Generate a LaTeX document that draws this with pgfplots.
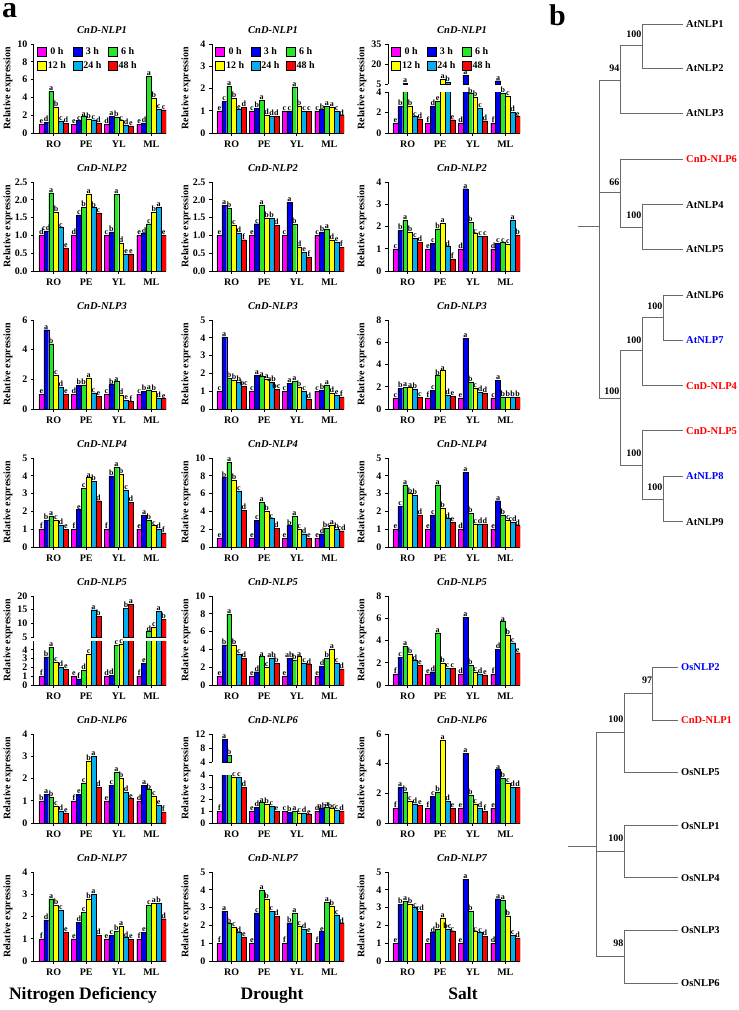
\documentclass[border=0pt]{standalone}
\usepackage{pgfplots}
\pgfplotsset{compat=1.18}
\usepackage{pgfplotstable}
\usepackage{fontspec}
\setmainfont{Liberation Serif}

\definecolor{c0}{RGB}{255,0,255}
\definecolor{c3}{RGB}{0,0,240}
\definecolor{c6}{RGB}{40,230,40}
\definecolor{c12}{RGB}{255,255,0}
\definecolor{c24}{RGB}{0,176,240}
\definecolor{c48}{RGB}{255,0,0}
\definecolor{treec}{RGB}{105,105,105}

% ---------------- data ----------------
\pgfplotstableread{
x a b c d e f la lb lc ld le lf
0 1.0 1.2 4.7 2.9 1.35 1.1 e d a b c d
1 1.0 1.4 1.85 1.6 1.5 1.15 e c a b c d
2 1.0 1.9 1.8 1.4 0.9 0.8 d a b c d e
3 1.0 1.15 6.4 3.95 2.65 2.6 e d a b c c
}\tNa
\pgfplotstableread{
x a b c d e f la lb lc ld le lf
0 1.0 1.42 2.1 1.55 1.05 1.15 e c a b e d
1 1.0 1.12 1.48 0.8 0.75 0.75 c b a d d d
2 1.0 1.0 2.08 1.2 1.0 0.97 c c a b c c
3 1.0 1.05 1.2 1.15 1.0 0.78 c b a a c d
}\tDa
\pgfplotstableread{
x a b c d e f la lb lc ld le lf
0 1.0 2.6 5.7 2.6 1.6 1.4 e b {} b c d
1 1.0 2.65 3.1 8.7 6.2 1.3 f d e {} {} e
2 1.0 11.6 3.85 3.5 2.4 1.2 d {} b b c d
3 1.0 7.5 3.9 3.6 2.0 1.6 f {} b c d e
}\tSaL
\pgfplotstableread{
x a b c d e f la lb lc ld le lf
0 1.0 2.6 5.7 2.6 1.6 1.4 {} {} a {} {} {}
1 1.0 2.65 3.1 8.7 6.2 1.3 {} {} {} a b {}
2 1.0 11.6 3.85 3.5 2.4 1.2 {} a {} {} {} {}
3 1.0 7.5 3.9 3.6 2.0 1.6 {} a {} {} {} {}
}\tSaU
\pgfplotstableread{
x a b c d e f la lb lc ld le lf
0 1.0 1.13 2.2 1.65 1.22 0.65 d cd a b c e
1 1.0 1.58 1.8 2.17 1.78 1.63 d c b a b c
2 1.0 1.1 2.15 0.78 0.48 0.48 c b a d e e
3 1.0 1.05 1.33 1.65 1.8 1.0 e d c b a e
}\tNb
\pgfplotstableread{
x a b c d e f la lb lc ld le lf
0 1.0 1.85 1.76 1.3 1.07 0.88 e a b c d f
1 1.0 1.33 1.85 1.48 1.48 1.28 e c a b b d
2 1.0 1.93 1.32 0.66 0.53 0.4 c a b d e f
3 1.0 1.1 1.18 0.88 0.82 0.67 c b a d e f
}\tDb
\pgfplotstableread{
x a b c d e f la lb lc ld le lf
0 1.0 1.83 2.28 1.75 1.48 1.3 c b a b c d
1 1.0 1.25 1.9 2.15 1.1 0.55 e c b a d f
2 1.0 3.7 2.2 1.68 1.55 1.55 d a b c c c
3 1.0 1.25 1.28 1.2 2.3 1.6 d c c c a b
}\tSb
\pgfplotstableread{
x a b c d e f la lb lc ld le lf
0 1.0 5.35 4.4 2.3 1.5 1.0 e a b c d e
1 1.0 1.6 1.62 2.1 1.1 0.85 d b b a c e
2 1.0 1.65 1.85 0.95 0.6 0.5 c b a d e f
3 1.0 1.2 1.3 1.2 0.75 0.7 c b a b d e
}\tNc
\pgfplotstableread{
x a b c d e f la lb lc ld le lf
0 1.0 4.05 1.72 1.62 1.5 1.3 c a b b b bc
1 1.0 1.9 1.82 1.7 1.52 1.1 c a a a ab bc
2 1.0 1.45 1.55 1.25 1.02 0.57 c a a b c d
3 1.0 1.07 1.35 0.9 0.8 0.68 c b a d e f
}\tDc
\pgfplotstableread{
x a b c d e f la lb lc ld le lf
0 1.0 1.85 1.95 1.92 1.82 1.05 c b a a b c
1 1.0 1.7 3.0 3.45 1.28 1.15 f c b a d e
2 1.0 6.35 2.4 1.85 1.5 1.45 e a b c d d
3 1.0 2.6 1.08 1.08 1.08 1.08 c a b b b b
}\tSc
\pgfplotstableread{
x a b c d e f la lb lc ld le lf
0 1.0 1.5 1.75 1.5 1.25 1.0 f b a c d e
1 1.0 2.1 3.3 3.9 3.7 2.6 f e c a b d
2 1.0 4.0 4.5 4.1 3.2 2.5 f b a b c d
3 1.0 1.8 1.5 1.2 1.0 0.8 e a b c d f
}\tNd
\pgfplotstableread{
x a b c d e f la lb lc ld le lf
0 1.0 7.8 9.5 7.5 6.3 4.1 e b a b c d
1 1.0 3.0 5.0 4.0 3.2 2.1 e c a b c d
2 1.0 2.4 3.5 2.0 1.5 1.0 e b a c d e
3 1.0 1.5 2.1 2.5 2.0 1.8 e d bc a b cd
}\tDd
\pgfplotstableread{
x a b c d e f la lb lc ld le lf
0 1.0 2.3 3.5 3.0 2.9 1.8 e c a b b d
1 1.0 1.8 3.5 2.2 1.6 1.4 e c a b d e
2 1.0 4.2 1.9 1.3 1.3 1.3 d a b c d d
3 1.0 2.6 1.8 1.5 1.4 1.2 e a b c cd d
}\tSd
\pgfplotstableread{
x a b c d e f la lb lc ld le lf
0 1.0 3.2 4.3 2.6 2.0 1.8 f b a c d e
1 1.0 0.7 1.7 3.5 15 12.5 e f d c {} {}
2 1.0 1.1 4.5 4.7 15.5 17 d d c c {} {}
3 1.0 2.5 7.0 8.5 14.5 11.5 f e {} {} {} {}
}\tNeL
\pgfplotstableread{
x a b c d e f la lb lc ld le lf
0 1.0 3.2 4.3 2.6 2.0 1.8 {} {} {} {} {} {}
1 1.0 0.7 1.7 3.5 15 12.5 {} {} {} {} a b
2 1.0 1.1 4.5 4.7 15.5 17 {} {} {} {} b a
3 1.0 2.5 7.0 8.5 14.5 11.5 {} {} d c a b
}\tNeU
\pgfplotstableread{
x a b c d e f la lb lc ld le lf
0 1.0 4.5 8.0 4.5 3.5 3.0 e b a b c d
1 1.0 1.5 3.2 2.0 3.0 2.5 e d a c ab b
2 1.0 3.0 2.8 3.2 2.5 2.3 e ab b a c d
3 1.0 2.1 3.0 4.0 2.5 1.8 e d b a c d
}\tDe
\pgfplotstableread{
x a b c d e f la lb lc ld le lf
0 1.0 2.5 3.5 2.8 2.2 1.8 f c a b d e
1 1.0 1.2 4.7 2.0 1.5 1.5 e d a b c c
2 1.0 6.1 1.8 1.2 1.0 0.9 d a b c d e
3 1.0 3.2 5.7 4.5 3.8 2.9 f d a b c e
}\tSe
\pgfplotstableread{
x a b c d e f la lb lc ld le lf
0 1.0 1.3 1.15 0.75 0.55 0.45 b a b c d e
1 1.0 1.3 1.8 2.8 3.0 1.6 f e c b a d
2 1.0 1.7 2.3 2.0 1.4 1.1 e c a b d e
3 1.0 1.7 1.5 1.2 0.8 0.5 d a b c e f
}\tNf
\pgfplotstableread{
x a b c d e f la lb lc ld le lf
0 1.0 10.5 6.0 3.85 3.8 3.0 f {} {} c c d
1 1.0 1.3 1.7 1.6 1.4 1.0 e d a b c e
2 1.0 0.9 1.0 0.8 0.8 0.7 c b a c d e
3 1.0 1.2 1.3 1.2 1.1 1.0 d ab a bc c d
}\tDfL
\pgfplotstableread{
x a b c d e f la lb lc ld le lf
0 1.0 10.5 6.0 3.85 3.8 3.0 {} a b {} {} {}
1 1.0 1.3 1.7 1.6 1.4 1.0 {} {} {} {} {} {}
2 1.0 0.9 1.0 0.8 0.8 0.7 {} {} {} {} {} {}
3 1.0 1.2 1.3 1.2 1.1 1.0 {} {} {} {} {} {}
}\tDfU
\pgfplotstableread{
x a b c d e f la lb lc ld le lf
0 1.0 2.4 2.1 1.5 1.3 1.2 f a b c d e
1 1.0 1.8 2.1 5.6 1.5 1.0 f c b a d e
2 1.0 4.7 1.9 1.3 1.0 0.8 e a b c d f
3 1.0 3.6 3.0 2.7 2.4 2.4 e a b c d d
}\tSf
\pgfplotstableread{
x a b c d e f la lb lc ld le lf
0 1.0 1.85 2.8 2.5 2.3 1.3 f d a b c e
1 1.0 1.75 2.2 2.8 3.0 1.15 e d c b a d
2 1.0 1.15 1.35 1.55 1.05 0.97 e c b a d e
3 1.0 1.3 2.5 2.6 2.6 1.9 f e c a b d
}\tNg
\pgfplotstableread{
x a b c d e f la lb lc ld le lf
0 1.0 2.8 2.1 1.9 1.6 1.35 f a b c d e
1 1.0 2.7 4.0 3.5 2.8 2.5 e c a b c d
2 1.0 2.15 2.7 1.97 1.8 1.55 f b a c d e
3 1.0 1.65 3.3 3.1 2.6 2.1 f e a b c d
}\tDg
\pgfplotstableread{
x a b c d e f la lb lc ld le lf
0 1.0 3.2 3.35 3.2 3.0 2.8 e b a b c cd
1 1.0 1.6 1.8 2.4 1.8 1.65 e d b a bc c
2 1.0 4.6 2.8 1.65 1.6 1.4 e a b c c d
3 1.0 3.5 3.4 2.5 1.45 1.3 d a a b c d
}\tSg

% ---------------- styles ----------------
\pgfplotsset{
 panel/.style={
  scale only axis, width=132pt, anchor=south west,
  ybar, bar width=0.15,
  xmin=-0.6, xmax=3.45, xtick={0,1,2,3}, xticklabels={RO,PE,YL,ML},
  axis x line*=bottom, axis y line*=left,
  axis line style={-, line width=1pt},
  tick align=outside, major tick length=3pt,
  tick style={black, line width=0.8pt},
  ticklabel style={font=\bfseries\fontsize{10}{10}\selectfont},
  xticklabel style={yshift=-1pt},
  /pgf/number format/assume math mode=true,
  point meta=explicit symbolic, nodes near coords,
  every node near coord/.append style={font=\bfseries\fontsize{8}{8}\selectfont, inner sep=0.3pt, text=black, draw=none, fill=none},
  every axis plot/.append style={draw=black, line width=0.3pt},
  legend image code/.code={\draw[##1] (0pt,-4pt) rectangle (9pt,5pt);},
 },
 dec/.style={yticklabel style={/pgf/number format/fixed, /pgf/number format/fixed zerofill, /pgf/number format/precision=1}},
 upper/.style={axis x line=none, restrict y to domain=#1:1000},
 leg/.style={
  legend entries={0 h,3 h,6 h,12 h,24 h,48 h},
  legend columns=3,
  legend style={at={(0,1)}, anchor=north west, draw=none, fill=none,
    font=\bfseries\fontsize{10}{10}\selectfont, nodes={inner sep=1.5pt}, row sep=2.5pt,
    /tikz/every even column/.append style={column sep=5pt}},
 },
}

\newcommand{\bars}[1]{%
 \addplot[fill=c0,  bar shift=-0.375] table[x=x,y=a,meta=la]{#1};
 \addplot[fill=c3,  bar shift=-0.225] table[x=x,y=b,meta=lb]{#1};
 \addplot[fill=c6,  bar shift=-0.075] table[x=x,y=c,meta=lc]{#1};
 \addplot[fill=c12, bar shift=0.075]  table[x=x,y=d,meta=ld]{#1};
 \addplot[fill=c24, bar shift=0.225]  table[x=x,y=e,meta=le]{#1};
 \addplot[fill=c48, bar shift=0.375]  table[x=x,y=f,meta=lf]{#1};}
\newcommand{\legimgs}{%
 \addlegendimage{fill=c0, draw=black, line width=0.3pt}
 \addlegendimage{fill=c3, draw=black, line width=0.3pt}
 \addlegendimage{fill=c6, draw=black, line width=0.3pt}
 \addlegendimage{fill=c12, draw=black, line width=0.3pt}
 \addlegendimage{fill=c24, draw=black, line width=0.3pt}
 \addlegendimage{fill=c48, draw=black, line width=0.3pt}}

% #1 x, #2 bottom, #3 height, #4 ymin, #5 ymax, #6 ticks, #7 table, #8 extra
\newcommand{\panel}[8]{%
 \begin{axis}[panel, at={(#1pt,-#2pt)}, height=#3pt, ymin=#4, ymax=#5, ytick={#6}, #8]
 \bars{#7}
 \end{axis}}
\newcommand{\panelL}[8]{%
 \begin{axis}[panel, at={(#1pt,-#2pt)}, height=#3pt, ymin=#4, ymax=#5, ytick={#6}, #8, leg]
 \legimgs
 \bars{#7}
 \end{axis}}
\newcommand{\ptitle}[3]{\node[font=\bfseries\itshape\fontsize{10.5}{12}\selectfont] at (#1pt,{-#2pt+103pt}) {#3};}
\newcommand{\ylab}[2]{\node[rotate=90, font=\bfseries\fontsize{10}{12}\selectfont] at ({#1pt-26pt},{-#2pt+44.5pt}) {Relative expression};}
\newcommand{\tl}[1]{\addplot[treec, line width=0.8pt, solid, mark=none] coordinates {#1};}

\begin{document}
\begin{tikzpicture}
\path[use as bounding box] (0pt,0pt) rectangle (739pt,-1010pt);

% ----- row 1 : CnD-NLP1 -----
\panelL{34}{133}{89}{0}{10}{0,2,...,10}{\tNa}{}
\panelL{212}{133}{89}{0}{4}{0,1,...,4}{\tDa}{}
\panel{388}{133}{41}{0}{4}{0,2,4}{\tSaL}{}
\panelL{388}{84}{40}{5}{35}{5,20,35}{\tSaU}{upper=5}
% ----- row 2 : CnD-NLP2 -----
\panel{34}{271}{89}{0}{2.5}{0,0.5,...,2.5}{\tNb}{dec}
\panel{212}{271}{89}{0}{2.5}{0,0.5,...,2.5}{\tDb}{dec}
\panel{388}{271}{89}{0}{4}{0,1,...,4}{\tSb}{}
% ----- row 3 : CnD-NLP3 -----
\panel{34}{409}{89}{0}{6}{0,2,4,6}{\tNc}{}
\panel{212}{409}{89}{0}{5}{0,1,...,5}{\tDc}{}
\panel{388}{409}{89}{0}{8}{0,2,...,8}{\tSc}{}
% ----- row 4 : CnD-NLP4 -----
\panel{34}{547}{89}{0}{5}{0,1,...,5}{\tNd}{}
\panel{212}{547}{89}{0}{10}{0,2,...,10}{\tDd}{}
\panel{388}{547}{89}{0}{5}{0,1,...,5}{\tSd}{}
% ----- row 5 : CnD-NLP5 -----
\panel{34}{685}{44}{0}{5}{0,1,...,4}{\tNeL}{}
\panel{34}{637}{41}{5}{20}{5,10,15,20}{\tNeU}{upper=5}
\panel{212}{685}{89}{0}{10}{0,2,...,10}{\tDe}{}
\panel{388}{685}{89}{0}{8}{0,2,...,8}{\tSe}{}
% ----- row 6 : CnD-NLP6 -----
\panel{34}{823}{89}{0}{4}{0,1,...,4}{\tNf}{}
\panel{212}{823}{48}{0}{4}{0,1,...,4}{\tDfL}{}
\panel{212}{762}{28}{4}{12}{4,8,12}{\tDfU}{upper=4}
\panel{388}{823}{89}{0}{6}{0,2,4,6}{\tSf}{}
% ----- row 7 : CnD-NLP7 -----
\panel{34}{961}{89}{0}{4}{0,1,...,4}{\tNg}{}
\panel{212}{961}{89}{0}{5}{0,1,...,5}{\tDg}{}
\panel{388}{961}{89}{0}{5}{0,1,...,5}{\tSg}{}

\foreach \b/\t in {133/CnD-NLP1,271/CnD-NLP2,409/CnD-NLP3,547/CnD-NLP4,685/CnD-NLP5,823/CnD-NLP6,961/CnD-NLP7}{
  \ptitle{102}{\b}{\t}\ptitle{273}{\b}{\t}\ptitle{462}{\b}{\t}
  \ylab{34}{\b}\ylab{212}{\b}\ylab{388}{\b}
}

\node[font=\bfseries\fontsize{17.5}{20}\selectfont, anchor=base] at (83pt,-999pt) {Nitrogen Deficiency};
\node[font=\bfseries\fontsize{17.5}{20}\selectfont, anchor=base] at (272pt,-999pt) {Drought};
\node[font=\bfseries\fontsize{17.5}{20}\selectfont, anchor=base] at (463pt,-999pt) {Salt};
\node[font=\bfseries\fontsize{30}{30}\selectfont, anchor=base west, inner sep=0pt] at (2pt,-17pt) {a};
\node[font=\bfseries\fontsize{30}{30}\selectfont, anchor=base west, inner sep=0pt] at (549pt,-25pt) {b};

% ----- panel b : tree -----
\begin{axis}[hide axis, scale only axis, x=1pt, y=1pt, y dir=reverse,
  xmin=0, xmax=739, ymin=0, ymax=1010, at={(0pt,0pt)}, anchor=north west, clip=false]
\tl{(578,226) (599,226)}
\tl{(620,80) (599,80) (599,398) (620,398)}
\tl{(599,192) (620,192)}
\tl{(642,45.7) (620,45.7) (620,113.3) (683,113.3)}
\tl{(683,24.3) (642,24.3) (642,68.3) (683,68.3)}
\tl{(683,159.3) (620,159.3) (620,227) (642,227)}
\tl{(683,204.7) (642,204.7) (642,249.3) (683,249.3)}
\tl{(642,350.7) (620,350.7) (620,465) (642,465)}
\tl{(663,317.5) (642,317.5) (642,385.7) (683,385.7)}
\tl{(683,295) (663,295) (663,340) (683,340)}
\tl{(683,430.7) (642,430.7) (642,499) (663,499)}
\tl{(683,476) (663,476) (663,521.7) (683,521.7)}
\tl{(568.3,846.7) (596,846.7)}
\tl{(624,732.7) (596,732.7) (596,956.7) (624,956.7)}
\tl{(596,851.7) (624,851.7)}
\tl{(652.7,693.3) (624,693.3) (624,772.3) (678.3,772.3)}
\tl{(678.3,667.3) (652.7,667.3) (652.7,720) (678.3,720)}
\tl{(678.3,825.7) (624,825.7) (624,877.7) (678.3,877.7)}
\tl{(678.3,930) (624,930) (624,983.3) (678.3,983.3)}

\begin{scope}[every node/.style={font=\bfseries\fontsize{10.5}{12}\selectfont, anchor=west, inner sep=1pt}]
\node at (axis cs:685,24.3) {AtNLP1};
\node at (axis cs:685,68.3) {AtNLP2};
\node at (axis cs:685,113.3) {AtNLP3};
\node[text=red] at (axis cs:685,159.3) {CnD-NLP6};
\node at (axis cs:685,204.7) {AtNLP4};
\node at (axis cs:685,249.3) {AtNLP5};
\node at (axis cs:685,295) {AtNLP6};
\node[text=blue] at (axis cs:685,340) {AtNLP7};
\node[text=red] at (axis cs:685,385.7) {CnD-NLP4};
\node[text=red] at (axis cs:685,430.7) {CnD-NLP5};
\node[text=blue] at (axis cs:685,476) {AtNLP8};
\node at (axis cs:685,521.7) {AtNLP9};
\node[text=blue] at (axis cs:680,667.3) {OsNLP2};
\node[text=red] at (axis cs:680,720) {CnD-NLP1};
\node at (axis cs:680,772.3) {OsNLP5};
\node at (axis cs:680,825.7) {OsNLP1};
\node at (axis cs:680,877.7) {OsNLP4};
\node at (axis cs:680,930) {OsNLP3};
\node at (axis cs:680,983.3) {OsNLP6};
\end{scope}
\begin{scope}[every node/.style={font=\bfseries\fontsize{10}{12}\selectfont, anchor=east, inner sep=0.5pt}]
\node at (axis cs:642,34) {100};
\node at (axis cs:620,68.3) {94};
\node at (axis cs:620,182.3) {66};
\node at (axis cs:642,215) {100};
\node at (axis cs:663,306) {100};
\node at (axis cs:642,340) {100};
\node at (axis cs:620,391) {100};
\node at (axis cs:642,453) {100};
\node at (axis cs:663,487) {100};
\node at (axis cs:652.7,680) {97};
\node at (axis cs:624,719.3) {100};
\node at (axis cs:624,837.7) {100};
\node at (axis cs:624,943.3) {98};
\end{scope}
\end{axis}
\end{tikzpicture}
\end{document}
